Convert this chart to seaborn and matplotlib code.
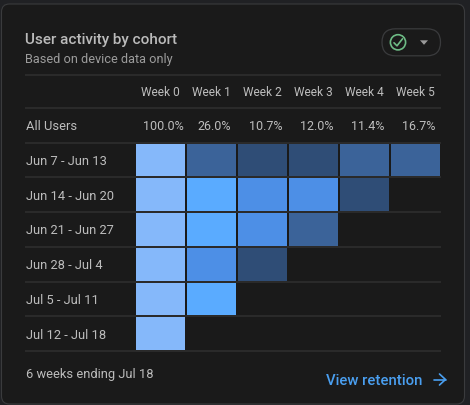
#!/usr/bin/env python3
"""User activity by cohort - dark retention card"""

import numpy as np
import matplotlib
matplotlib.use("Agg")
import matplotlib.pyplot as plt
from matplotlib.colors import BoundaryNorm, ListedColormap
from matplotlib.patches import Circle, FancyBboxPatch, Polygon
import seaborn as sns

# --- Data ---
weeks = ["Week 0", "Week 1", "Week 2", "Week 3", "Week 4", "Week 5"]
all_users = ["100.0%", "26.0%", "10.7%", "12.0%", "11.4%", "16.7%"]
cohorts = ["Jun 7 - Jun 13", "Jun 14 - Jun 20", "Jun 21 - Jun 27",
           "Jun 28 - Jul 4", "Jul 5 - Jul 11", "Jul 12 - Jul 18"]

# cell values are estimated from the colour buckets
row_1 = [100, 16, 8, 8, 14, 16.7]
row_2 = [100, 38, 24, 24, 9, np.nan]
row_3 = [100, 36, 25, 15, np.nan, np.nan]
row_4 = [100, 27, 10, np.nan, np.nan, np.nan]
row_5 = [100, 34, np.nan, np.nan, np.nan, np.nan]
row_6 = [100, np.nan, np.nan, np.nan, np.nan, np.nan]
retention = np.array([row_1, row_2, row_3, row_4, row_5, row_6])

bucket_edges = [0, 12, 20, 30, 60, 101]
bucket_colors = ["#2f4d76", "#3b6399", "#4d8fe6", "#5aabff", "#85b8fa"]

OUTER = "#202124"
CARD = "#1a1a1a"
RULE = "#2f2f30"
TEXT = "#bdbdbd"
W, H = 470, 406

sns.set_theme(style="dark")
plt.rcParams["font.family"] = ["Roboto", "DejaVu Sans"]

fig = plt.figure(figsize=(W / 100, H / 100), dpi=100, facecolor=OUTER)


def pixel_axes(zorder):
    ax = fig.add_axes([0, 0, 1, 1], zorder=zorder)
    ax.set_xlim(0, W)
    ax.set_ylim(H, 0)
    ax.axis("off")
    ax.patch.set_alpha(0)
    return ax


# --- Card ---
back = pixel_axes(0)
back.add_patch(FancyBboxPatch((1.5, 5), 463, 400, boxstyle="round,pad=0,rounding_size=8",
                              fc=CARD, ec="#3a3b3d", lw=0.8))

# --- Heatmap ---
left, right, top, bottom = 135, 441, 143.5, 352.2
hm_ax = fig.add_axes([left / W, 1 - bottom / H, (right - left) / W, (bottom - top) / H], zorder=1)
sns.heatmap(retention, ax=hm_ax, cmap=ListedColormap(bucket_colors),
            norm=BoundaryNorm(bucket_edges, len(bucket_colors)), cbar=False,
            linewidths=1.44, linecolor=CARD, xticklabels=False, yticklabels=False)
hm_ax.patch.set_alpha(0)

# --- Rules and text ---
front = pixel_axes(2)
pitch_x = (right - left) / len(weeks)
pitch_y = (bottom - top) / len(cohorts)

for y in [75.8, 108.8] + [top + i * pitch_y for i in range(len(cohorts) + 1)]:
    front.plot([25, 441], [y, y], color=RULE, lw=1.1, solid_capstyle="butt")

front.text(25, 40, "User activity by cohort", color="#bbbbbb", fontsize=11,
           weight="medium", va="center")
front.text(25, 60, "Based on device data only", color="#9c9c9c", fontsize=9.15, va="center")

for i, (week, pct) in enumerate(zip(weeks, all_users)):
    cx = left + (i + 0.5) * pitch_x
    front.text(cx, 93, week, color=TEXT, fontsize=8.6, ha="center", va="center")
    front.text(cx + 3, 127, pct, color=TEXT, fontsize=9, ha="center", va="center")

front.text(26, 126.5, "All Users", color=TEXT, fontsize=9.3, va="center")
for i, cohort in enumerate(cohorts):
    front.text(26, top + (i + 0.5) * pitch_y + 0.5, cohort, color=TEXT, fontsize=9.3, va="center")

front.text(25.5, 374.5, "6 weeks ending Jul 18", color=TEXT, fontsize=9.3, va="center")
front.text(326.5, 381, "View retention", color="#4a9ff0", fontsize=10.7,
           weight="medium", va="center")

# arrow after the link
front.plot([434, 445.5], [380.5, 380.5], color="#4a9ff0", lw=1.2)
front.plot([439.5, 445.5, 439.5], [375, 380.5, 386], color="#4a9ff0", lw=1.2)

# --- Status chip ---
front.add_patch(FancyBboxPatch((382, 29.8), 58.5, 27, boxstyle="round,pad=0,rounding_size=13.5",
                               fc="none", ec="#3a3b3d", lw=0.9))
front.add_patch(Circle((398, 43.3), 7.6, fc="none", ec="#6dbb85", lw=1.2))
front.plot([394, 397, 402.5], [43.8, 46.8, 39.8], color="#6dbb85", lw=1.2)
front.add_patch(Polygon([[420, 41.3], [428, 41.3], [424, 45.8]], fc="#9a9a9a", ec="none"))

plt.savefig("out.png", dpi=100, facecolor=OUTER)
